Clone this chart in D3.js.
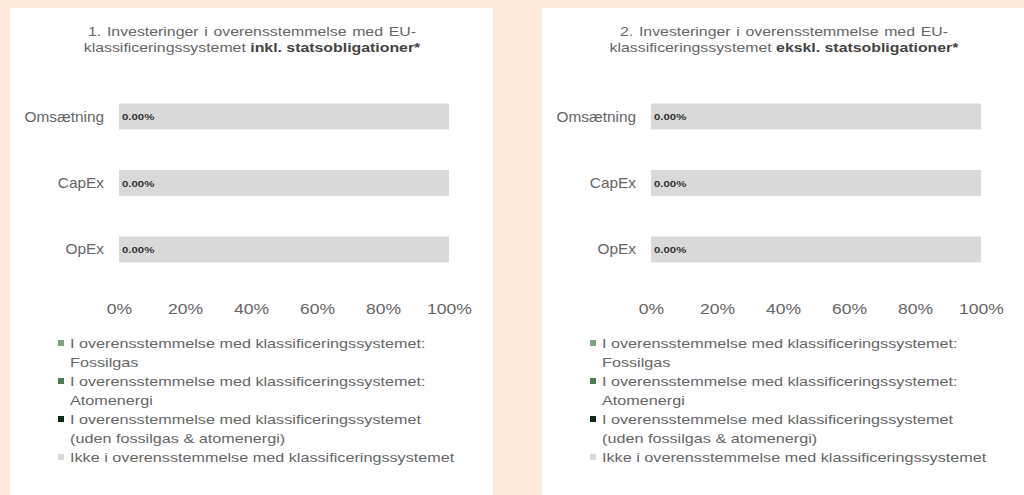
<!DOCTYPE html>
<html><head><meta charset="utf-8">
<script src="https://cdn.jsdelivr.net/npm/d3@7"></script>
<style>html,body{margin:0;padding:0;background:#fde8d9;}svg{display:block;}</style>
</head><body><svg id="c" width="1024" height="495"></svg>
<script>
const categories = ["Omsætning", "CapEx", "OpEx"];
const legendLines = [
  ["I overensstemmelse med klassificeringssystemet:", "Fossilgas"],
  ["I overensstemmelse med klassificeringssystemet:", "Atomenergi"],
  ["I overensstemmelse med klassificeringssystemet", "(uden fossilgas & atomenergi)"],
  ["Ikke i overensstemmelse med klassificeringssystemet"]
];
const seriesColors = ["#7ea380", "#4d7a55", "#0c2a14", "#d9d9d9"];
// values per category (%)
const chart1Fossil = [0, 0, 0];
const chart1Nuclear = [0, 0, 0];
const chart1Aligned = [0, 0, 0];
const chart1NotAligned = [100, 100, 100];
const chart2Fossil = [0, 0, 0];
const chart2Nuclear = [0, 0, 0];
const chart2Aligned = [0, 0, 0];
const chart2NotAligned = [100, 100, 100];
const tickValues = [0, 20, 40, 60, 80, 100];
const titles = [
  ["1. Investeringer i overensstemmelse med EU-", "klassificeringssystemet ", "inkl. statsobligationer*"],
  ["2. Investeringer i overensstemmelse med EU-", "klassificeringssystemet ", "ekskl. statsobligationer*"]
];

const svg = d3.select("#c");
const font = "'Liberation Sans', Arial, sans-serif";

function stretchText(parent, x, y, sx) {
  return parent.append("g").attr("transform", `translate(${x},${y}) scale(${sx},1)`)
    .append("text").attr("x", 0).attr("y", 0).attr("font-family", font);
}

function drawPanel(px, pw, title, series) {
  const g = svg.append("g").attr("transform", `translate(${px},0)`);
  g.append("rect").attr("x", 0).attr("y", 8).attr("width", pw).attr("height", 495).attr("fill", "#ffffff");
  const x = d3.scaleLinear().domain([0, 100]).range([109, 439]);
  const y = d3.scaleBand().domain(categories).range([63, 303]).paddingInner(0.61).paddingOuter(0.61);
  const cx = 242;
  stretchText(g, cx, 36, 1.27).attr("text-anchor", "middle").attr("font-size", 12.5)
    .attr("word-spacing", 1).attr("fill", "#666").text(title[0]);
  const t2 = stretchText(g, cx, 52, 1.27).attr("text-anchor", "middle").attr("font-size", 12.5).attr("fill", "#666");
  t2.append("tspan").text(title[1]);
  t2.append("tspan").attr("font-weight", "bold").attr("fill", "#444").text(title[2]);

  const rows = categories.map((c, i) => ({cat: c, vals: series.map(s => s[i])}));
  rows.forEach(r => {
    let acc = 0;
    r.vals.forEach((v, k) => {
      g.append("rect").attr("x", x(acc)).attr("y", y(r.cat)).attr("width", x(acc + v) - x(acc))
        .attr("height", y.bandwidth()).attr("fill", seriesColors[k]);
      acc += v;
    });
    const alignedSum = r.vals[0] + r.vals[1] + r.vals[2];
    stretchText(g, x(0) + 3, y(r.cat) + y.bandwidth() / 2 + 3.5, 1.2)
      .attr("font-size", 9.5).attr("font-weight", "bold").attr("fill", "#333")
      .text(alignedSum.toFixed(2) + "%");
  });
  categories.forEach(c => {
    stretchText(g, x(0) - 15, y(c) + y.bandwidth() / 2 + 5, 1.1)
      .attr("text-anchor", "end").attr("font-size", 14).attr("fill", "#666").text(c);
  });
  const xAxis = g.append("g").attr("transform", `translate(0,293)`)
    .call(d3.axisBottom(x).tickValues(tickValues).tickFormat(d => d + "%").tickSize(0).tickPadding(10));
  xAxis.select(".domain").remove();
  xAxis.selectAll("text").attr("font-family", font).attr("font-size", 15).attr("fill", "#666")
    .attr("transform", "scale(1.17,1)");
  const lg = g.append("g");
  let ly = 343;
  legendLines.forEach((lines, k) => {
    lg.append("rect").attr("x", 48).attr("y", ly - 3).attr("width", 6).attr("height", 6).attr("fill", seriesColors[k]);
    lines.forEach(ln => {
      stretchText(lg, 60, ly + 4.5, 1.35).attr("font-size", 12).attr("fill", "#666").text(ln);
      ly += 19;
    });
  });
}
drawPanel(10, 483, titles[0], [chart1Fossil, chart1Nuclear, chart1Aligned, chart1NotAligned]);
drawPanel(542, 500, titles[1], [chart2Fossil, chart2Nuclear, chart2Aligned, chart2NotAligned]);
</script></body></html>
